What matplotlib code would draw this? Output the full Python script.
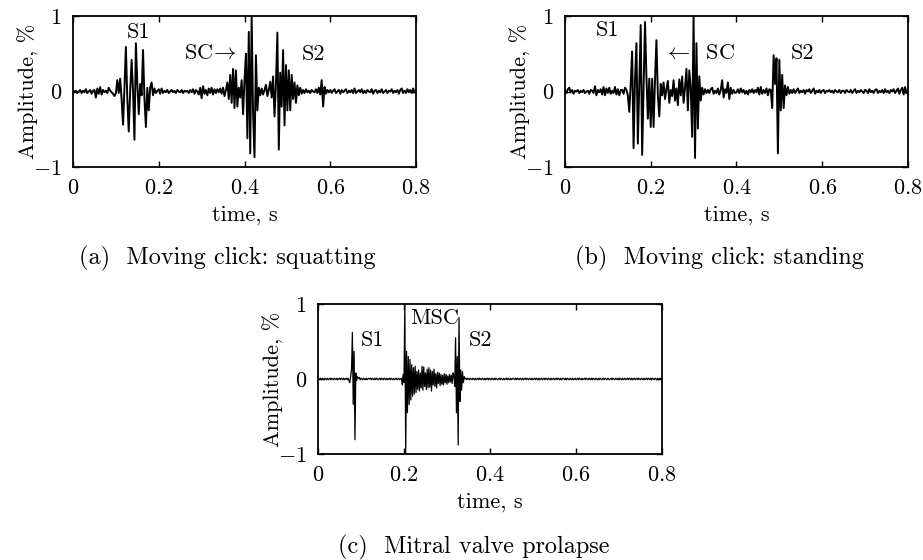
import numpy as np
import matplotlib
matplotlib.use("Agg")
import matplotlib.pyplot as plt

# heart sound recordings, amplitude in % of full scale
fs_ab = 300   # samples per second for panels (a) and (b)
fs_c = 500    # panel (c) was recorded at a finer step

signal_a = [
    0.02, -0.01, 0.01, -0.02, 0.00, 0.02, -0.02, 0.01, -0.01, 0.03, -0.02, 0.00, 0.02, -0.03, 0.01, 0.02, -0.08, 0.04, -0.03, 0.06,
    -0.04, 0.02, -0.01, 0.01, -0.02, 0.05, 0.01, -0.01, -0.03, -0.06, -0.02, 0.15, -0.02, 0.17, -0.10, -0.44, 0.05, 0.59, -0.10, -0.53,
    0.00, 0.42, 0.00, -0.64, 0.64, 0.10, -0.30, 0.10, -0.05, 0.55, -0.10, -0.47, 0.05, -0.25, 0.05, 0.12, -0.05, 0.04, -0.02, 0.01,
    0.03, -0.03, 0.04, -0.02, 0.01, -0.01, 0.02, -0.02, 0.00, 0.02, -0.01, 0.01, -0.02, 0.02, 0.00, -0.01, 0.02, -0.02, 0.01, 0.00,
    0.01, -0.02, 0.02, -0.01, 0.03, -0.03, 0.02, 0.00, -0.04, 0.05, -0.09, 0.07, -0.03, 0.02, -0.05, 0.04, -0.02, 0.05, -0.04, 0.03,
    -0.02, 0.03, -0.01, 0.04, -0.03, 0.05, -0.06, 0.02, 0.12, -0.10, 0.22, -0.15, 0.30, -0.22, 0.28, -0.20, 0.05, -0.08, 0.15, -0.30,
    0.15, 0.50, -0.62, 0.79, -0.82, 1.00, -0.30, -0.87, 0.48, -0.25, 0.05, -0.05, 0.04, -0.04, 0.02, 0.09, -0.06, 0.02, 0.13, -0.08,
    0.20, -0.33, 0.10, 0.78, -0.77, 0.25, -0.20, 0.55, -0.45, 0.35, -0.25, 0.28, -0.25, 0.22, -0.10, 0.12, -0.15, 0.08, -0.05, 0.05,
    -0.03, 0.02, -0.02, 0.03, -0.01, 0.01, -0.02, 0.02, 0.00, -0.01, 0.03, -0.02, 0.05, -0.04, 0.15, -0.20, 0.06, -0.03, 0.02, -0.01,
    0.02, -0.02, 0.01, 0.03, -0.02, 0.00, 0.02, -0.03, 0.02, -0.01, 0.01, 0.03, -0.02, 0.01, -0.01, 0.02, -0.02, 0.04, -0.02, 0.00,
    0.02, -0.01, 0.03, -0.02, 0.01, -0.02, 0.02, 0.00, -0.01, 0.03, -0.03, 0.01, 0.02, -0.02, 0.01, -0.01, 0.03, -0.02, 0.00, 0.02,
    -0.02, 0.01, 0.00, 0.03, -0.02, 0.01, -0.01, 0.02, -0.03, 0.02, 0.04, -0.02, 0.01, -0.02, 0.03, -0.01, 0.02, -0.02, 0.04, -0.01,
]

signal_b = [
    0.01, -0.02, 0.03, 0.05, -0.01, 0.02, -0.03, 0.01, 0.00, 0.02, -0.02, 0.01, -0.01, 0.02, -0.02, 0.00, 0.01, -0.03, 0.02, 0.01,
    -0.02, 0.07, -0.05, 0.02, -0.01, 0.03, -0.04, 0.06, -0.05, 0.04, -0.02, 0.05, -0.03, 0.01, -0.02, 0.06, -0.04, 0.03, -0.05, 0.02,
    0.02, -0.03, 0.05, 0.02, -0.05, -0.27, 0.10, 0.53, -0.75, 0.15, 0.64, -0.69, 0.10, 0.88, -0.84, 0.05, 0.92, 0.20, -0.36, 0.17,
    -0.47, 0.17, -0.47, 0.15, 0.68, -0.05, -0.33, 0.10, -0.05, 0.12, -0.10, 0.03, 0.14, -0.15, 0.02, -0.06, 0.15, -0.12, 0.04, -0.18,
    0.16, -0.05, 0.20, -0.15, 0.05, 0.30, -0.25, 0.28, 0.05, -0.60, 1.00, -0.88, 0.64, -0.49, 0.20, -0.12, 0.05, -0.04, 0.03, -0.02,
    0.02, -0.02, 0.03, 0.05, -0.03, 0.01, -0.02, 0.04, -0.04, 0.02, 0.15, -0.08, 0.03, -0.02, 0.12, -0.10, 0.05, -0.03, 0.02, -0.02,
    -0.01, 0.03, -0.02, 0.04, -0.01, 0.02, -0.03, 0.01, -0.04, 0.02, -0.01, 0.03, -0.02, 0.02, -0.01, 0.05, -0.04, 0.06, -0.03, 0.02,
    -0.02, 0.04, -0.05, 0.03, 0.02, -0.22, 0.48, 0.10, 0.44, -0.82, 0.42, -0.25, 0.22, -0.22, 0.08, -0.05, 0.06, -0.03, 0.02, -0.02,
    0.03, -0.02, 0.01, 0.04, -0.02, 0.01, -0.01, 0.02, -0.03, 0.02, 0.00, 0.03, -0.02, 0.01, 0.04, -0.03, 0.01, -0.01, 0.02, -0.02,
    0.01, 0.02, -0.02, 0.01, 0.00, 0.02, -0.01, 0.01, -0.02, 0.02, 0.00, -0.01, 0.02, -0.02, 0.01, 0.01, -0.02, 0.02, 0.00, -0.01,
    0.02, -0.02, 0.01, 0.03, -0.02, 0.01, -0.01, 0.02, 0.00, -0.02, 0.02, 0.01, -0.02, 0.03, -0.01, 0.01, -0.02, 0.02, 0.03, -0.02,
    0.01, -0.01, 0.02, -0.02, 0.03, -0.01, 0.01, -0.02, 0.02, 0.00, 0.03, -0.02, 0.01, 0.04, -0.03, 0.02, 0.05, -0.04, 0.06, -0.02,
]

signal_c = [
    0.01, -0.01, 0.00, 0.01, -0.01, 0.01, 0.00, -0.01, 0.01, 0.00, -0.01, 0.01, -0.01, 0.00, 0.01, -0.01, 0.01, 0.00, -0.01, 0.01,
    0.00, -0.01, 0.01, -0.01, 0.00, 0.01, -0.01, 0.01, 0.00, -0.01, 0.01, -0.01, 0.00, 0.01, -0.01, 0.01, -0.02, -0.05, 0.03, 0.12,
    0.62, -0.34, 0.37, -0.81, 0.08, -0.02, 0.03, 0.01, 0.02, -0.01, 0.01, 0.00, -0.01, 0.01, 0.00, -0.01, 0.01, -0.01, 0.00, 0.01,
    0.00, 0.01, -0.01, 0.01, 0.00, -0.01, 0.01, -0.01, 0.01, 0.00, -0.01, 0.00, 0.01, -0.01, 0.01, 0.00, -0.01, 0.01, 0.00, -0.01,
    0.01, -0.01, 0.00, 0.01, -0.01, 0.01, 0.00, -0.01, 0.01, -0.01, 0.00, 0.01, -0.01, 0.00, 0.01, -0.01, 0.00, 0.01, -0.08, 0.06,
    -0.05, 1.00, -1.00, 0.37, -0.45, 0.30, -0.34, 0.26, -0.28, 0.19, -0.23, 0.15, -0.20, 0.17, -0.18, 0.10, -0.14, 0.12, -0.16, 0.08,
    -0.12, 0.17, -0.15, 0.16, -0.10, 0.08, -0.14, 0.13, -0.12, 0.15, -0.11, 0.12, -0.16, 0.10, -0.08, 0.13, -0.10, 0.07, -0.12, 0.09,
    -0.06, 0.08, -0.09, 0.06, -0.07, 0.05, -0.08, 0.07, -0.05, 0.06, -0.07, 0.04, -0.05, 0.06, -0.04, 0.05, -0.06, 0.08, 0.05, -0.10,
    0.55, -0.45, 0.30, -0.88, 0.82, -0.30, 0.12, -0.15, 0.10, -0.05, 0.03, 0.00, 0.01, -0.01, 0.01, 0.00, -0.01, 0.01, 0.00, -0.01,
    0.01, 0.00, -0.01, 0.01, -0.01, 0.00, 0.01, -0.01, 0.01, 0.00, -0.01, 0.01, 0.00, -0.01, 0.01, -0.01, 0.00, 0.01, -0.01, 0.01,
    0.00, -0.01, 0.01, 0.00, -0.01, 0.01, -0.01, 0.01, 0.00, -0.01, 0.00, 0.01, -0.01, 0.01, 0.00, -0.01, 0.01, -0.01, 0.00, 0.01,
    -0.01, 0.01, 0.00, -0.01, 0.01, -0.01, 0.00, 0.01, 0.00, -0.01, 0.01, -0.01, 0.01, 0.00, -0.01, 0.01, 0.00, -0.01, 0.01, -0.01,
    0.00, 0.01, -0.01, 0.01, 0.00, -0.01, 0.01, 0.00, -0.01, 0.01, -0.01, 0.00, 0.01, -0.01, 0.01, 0.00, -0.01, 0.01, -0.01, 0.00,
    0.01, -0.01, 0.00, 0.01, -0.01, 0.01, 0.00, -0.01, 0.01, 0.00, -0.01, 0.01, -0.01, 0.00, 0.01, -0.01, 0.00, 0.01, -0.01, 0.01,
    0.00, -0.01, 0.01, -0.01, 0.00, 0.01, 0.00, -0.01, 0.01, -0.01, 0.01, 0.00, -0.01, 0.01, 0.00, -0.01, 0.01, -0.01, 0.00, 0.01,
    -0.01, 0.00, 0.01, -0.01, 0.01, 0.00, -0.01, 0.01, -0.01, 0.00, 0.01, -0.01, 0.01, 0.00, -0.01, 0.01, 0.00, -0.01, 0.01, -0.01,
    0.01, 0.00, -0.01, 0.01, 0.00, -0.01, 0.01, -0.01, 0.01, 0.00, -0.01, 0.00, 0.01, -0.01, 0.01, 0.00, -0.01, 0.01, 0.00, -0.01,
    0.00, 0.01, -0.01, 0.01, 0.00, -0.01, 0.01, 0.00, -0.01, 0.01, -0.01, 0.01, 0.00, -0.01, 0.01, -0.01, 0.00, 0.01, -0.01, 0.00,
    0.01, -0.01, 0.01, 0.00, -0.01, 0.01, -0.01, 0.00, 0.01, -0.01, 0.00, 0.01, -0.01, 0.01, 0.00, -0.01, 0.01, 0.00, -0.01, 0.01,
    -0.01, 0.00, 0.01, -0.01, 0.01, 0.00, -0.01, 0.01, -0.01, 0.01, 0.00, -0.01, 0.01, 0.00, -0.01, 0.01, -0.01, 0.00, 0.01, 0.00,
]

x_ticks = [0, 0.2, 0.4, 0.6, 0.8]
x_tick_labels = ["$0$", "$0.2$", "$0.4$", "$0.6$", "$0.8$"]
y_ticks = [-1, 0, 1]
y_tick_labels = ["$-1$", "$0$", "$1$"]

# (text, time, amplitude)
notes_a = [("S1", 0.152, 0.79), (r"$\mathrm{SC}\!\rightarrow$", 0.32, 0.51), ("S2", 0.56, 0.50)]
notes_b = [("S1", 0.10, 0.81), (r"$\leftarrow\;\ \mathrm{SC}$", 0.314, 0.51), ("S2", 0.555, 0.51)]
notes_c = [("S1", 0.127, 0.52), ("MSC", 0.272, 0.81), ("S2", 0.377, 0.52)]

captions = ["(a)  Moving click: squatting", "(b)  Moving click: standing", "(c)  Mitral valve prolapse"]

plt.rcParams["font.family"] = "serif"
plt.rcParams["font.serif"] = ["cmr10"]
plt.rcParams["mathtext.fontset"] = "cm"
plt.rcParams["axes.formatter.use_mathtext"] = True
plt.rcParams["axes.unicode_minus"] = True

FS = 16


def draw_panel(ax, signal, fs, notes, lw):
    t = np.arange(len(signal)) / fs
    ax.plot(t, signal, color="black", lw=lw)
    ax.set_xlim(0, 0.8)
    ax.set_ylim(-1, 1)
    ax.set_xticks(x_ticks)
    ax.set_xticklabels(x_tick_labels)
    ax.set_yticks(y_ticks)
    ax.set_yticklabels(y_tick_labels)
    ax.tick_params(direction="in", top=True, right=True, length=4, width=1.0,
                   labelsize=FS)
    ax.tick_params(axis="x", pad=8)
    ax.tick_params(axis="y", pad=8)
    for s in ax.spines.values():
        s.set_linewidth(1.3)
    ax.set_xlabel("time, s", fontsize=FS, labelpad=6)
    ax.set_ylabel("Amplitude, %", fontsize=FS, labelpad=-4)
    for text, x, y in notes:
        ax.text(x, y, text, fontsize=FS, ha="center", va="center")


fig = plt.figure(figsize=(9.23, 5.6), dpi=100)
ax_a = fig.add_axes([0.0791, 0.7018, 0.3716, 0.2696])
ax_b = fig.add_axes([0.6121, 0.7018, 0.3716, 0.2696])
ax_c = fig.add_axes([0.3445, 0.1893, 0.3727, 0.2679])

draw_panel(ax_a, signal_a, fs_ab, notes_a, 1.4)
draw_panel(ax_b, signal_b, fs_ab, notes_b, 1.4)
draw_panel(ax_c, signal_c, fs_c, notes_c, 0.9)

fig.text(0.246, 0.539, captions[0], fontsize=17.5, ha="center", va="center")
fig.text(0.779, 0.539, captions[1], fontsize=17.5, ha="center", va="center")
fig.text(0.5135, 0.0232, captions[2], fontsize=17.5, ha="center", va="center")

fig.savefig("out.png", dpi=100)
